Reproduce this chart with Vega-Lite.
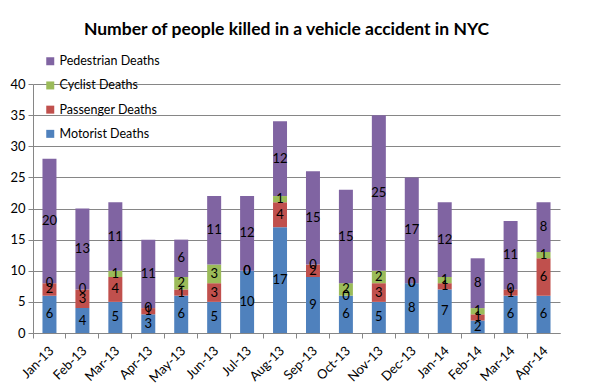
{
  "$schema": "https://vega.github.io/schema/vega-lite/v6.json",
  "autosize": {"type": "none"},
  "width": 527,
  "height": 249,
  "padding": {"left": 33, "top": 84, "right": 29, "bottom": 59},
  "background": "white",
  "title": {
    "text": "Number of people killed in a vehicle accident in NYC",
    "font": "Lato",
    "fontSize": 17.5,
    "fontWeight": "bold",
    "color": "#000000",
    "anchor": "middle",
    "offset": 17,
    "dx": -10
  },
  "data": {
    "values": [
      {"month": "Jan-13", "type": "Motorist Deaths", "value": 6},
      {"month": "Jan-13", "type": "Passenger Deaths", "value": 2},
      {"month": "Jan-13", "type": "Cyclist Deaths", "value": 0},
      {"month": "Jan-13", "type": "Pedestrian Deaths", "value": 20},
      {"month": "Feb-13", "type": "Motorist Deaths", "value": 4},
      {"month": "Feb-13", "type": "Passenger Deaths", "value": 3},
      {"month": "Feb-13", "type": "Cyclist Deaths", "value": 0},
      {"month": "Feb-13", "type": "Pedestrian Deaths", "value": 13},
      {"month": "Mar-13", "type": "Motorist Deaths", "value": 5},
      {"month": "Mar-13", "type": "Passenger Deaths", "value": 4},
      {"month": "Mar-13", "type": "Cyclist Deaths", "value": 1},
      {"month": "Mar-13", "type": "Pedestrian Deaths", "value": 11},
      {"month": "Apr-13", "type": "Motorist Deaths", "value": 3},
      {"month": "Apr-13", "type": "Passenger Deaths", "value": 1},
      {"month": "Apr-13", "type": "Cyclist Deaths", "value": 0},
      {"month": "Apr-13", "type": "Pedestrian Deaths", "value": 11},
      {"month": "May-13", "type": "Motorist Deaths", "value": 6},
      {"month": "May-13", "type": "Passenger Deaths", "value": 1},
      {"month": "May-13", "type": "Cyclist Deaths", "value": 2},
      {"month": "May-13", "type": "Pedestrian Deaths", "value": 6},
      {"month": "Jun-13", "type": "Motorist Deaths", "value": 5},
      {"month": "Jun-13", "type": "Passenger Deaths", "value": 3},
      {"month": "Jun-13", "type": "Cyclist Deaths", "value": 3},
      {"month": "Jun-13", "type": "Pedestrian Deaths", "value": 11},
      {"month": "Jul-13", "type": "Motorist Deaths", "value": 10},
      {"month": "Jul-13", "type": "Passenger Deaths", "value": 0},
      {"month": "Jul-13", "type": "Cyclist Deaths", "value": 0},
      {"month": "Jul-13", "type": "Pedestrian Deaths", "value": 12},
      {"month": "Aug-13", "type": "Motorist Deaths", "value": 17},
      {"month": "Aug-13", "type": "Passenger Deaths", "value": 4},
      {"month": "Aug-13", "type": "Cyclist Deaths", "value": 1},
      {"month": "Aug-13", "type": "Pedestrian Deaths", "value": 12},
      {"month": "Sep-13", "type": "Motorist Deaths", "value": 9},
      {"month": "Sep-13", "type": "Passenger Deaths", "value": 2},
      {"month": "Sep-13", "type": "Cyclist Deaths", "value": 0},
      {"month": "Sep-13", "type": "Pedestrian Deaths", "value": 15},
      {"month": "Oct-13", "type": "Motorist Deaths", "value": 6},
      {"month": "Oct-13", "type": "Passenger Deaths", "value": 0},
      {"month": "Oct-13", "type": "Cyclist Deaths", "value": 2},
      {"month": "Oct-13", "type": "Pedestrian Deaths", "value": 15},
      {"month": "Nov-13", "type": "Motorist Deaths", "value": 5},
      {"month": "Nov-13", "type": "Passenger Deaths", "value": 3},
      {"month": "Nov-13", "type": "Cyclist Deaths", "value": 2},
      {"month": "Nov-13", "type": "Pedestrian Deaths", "value": 25},
      {"month": "Dec-13", "type": "Motorist Deaths", "value": 8},
      {"month": "Dec-13", "type": "Passenger Deaths", "value": 0},
      {"month": "Dec-13", "type": "Cyclist Deaths", "value": 0},
      {"month": "Dec-13", "type": "Pedestrian Deaths", "value": 17},
      {"month": "Jan-14", "type": "Motorist Deaths", "value": 7},
      {"month": "Jan-14", "type": "Passenger Deaths", "value": 1},
      {"month": "Jan-14", "type": "Cyclist Deaths", "value": 1},
      {"month": "Jan-14", "type": "Pedestrian Deaths", "value": 12},
      {"month": "Feb-14", "type": "Motorist Deaths", "value": 2},
      {"month": "Feb-14", "type": "Passenger Deaths", "value": 1},
      {"month": "Feb-14", "type": "Cyclist Deaths", "value": 1},
      {"month": "Feb-14", "type": "Pedestrian Deaths", "value": 8},
      {"month": "Mar-14", "type": "Motorist Deaths", "value": 6},
      {"month": "Mar-14", "type": "Passenger Deaths", "value": 1},
      {"month": "Mar-14", "type": "Cyclist Deaths", "value": 0},
      {"month": "Mar-14", "type": "Pedestrian Deaths", "value": 11},
      {"month": "Apr-14", "type": "Motorist Deaths", "value": 6},
      {"month": "Apr-14", "type": "Passenger Deaths", "value": 6},
      {"month": "Apr-14", "type": "Cyclist Deaths", "value": 1},
      {"month": "Apr-14", "type": "Pedestrian Deaths", "value": 8}
    ]
  },
  "transform": [
    {"calculate": "indexof(['Motorist Deaths','Passenger Deaths','Cyclist Deaths','Pedestrian Deaths'], datum.type)", "as": "ord"},
    {"stack": "value", "groupby": ["month"], "sort": [{"field": "ord", "order": "ascending"}], "as": ["y0", "y1"]},
    {"calculate": "(datum.y0 + datum.y1) / 2", "as": "mid"}
  ],
  "encoding": {
    "x": {
      "field": "month",
      "type": "ordinal",
      "sort": null,
      "scale": {"paddingInner": 0, "paddingOuter": 0},
      "axis": {
        "title": null,
        "bandPosition": 0,
        "labelOffset": -2,
        "labelAngle": -45,
        "labelFont": "Lato",
        "labelFontSize": 13,
        "labelColor": "#000000",
        "domainColor": "#868686",
        "tickColor": "#868686",
        "tickSize": 5,
        "labelPadding": 6,
        "grid": false
      }
    }
  },
  "layer": [
    {
      "mark": {"type": "bar", "width": {"band": 0.425}},
      "encoding": {
        "y": {
          "field": "y0",
          "type": "quantitative",
          "scale": {"domain": [0, 40]},
          "axis": {
            "title": null,
            "values": [0, 5, 10, 15, 20, 25, 30, 35, 40],
            "labelOverlap": false,
            "labelFont": "Lato",
            "labelFontSize": 13,
            "labelColor": "#000000",
            "domainColor": "#868686",
            "tickColor": "#868686",
            "tickSize": 5,
            "labelPadding": 3,
            "gridColor": "#868686",
            "gridOpacity": 1
          }
        },
        "y2": {"field": "y1"},
        "color": {
          "field": "type",
          "type": "nominal",
          "scale": {
            "domain": ["Pedestrian Deaths", "Cyclist Deaths", "Passenger Deaths", "Motorist Deaths"],
            "range": ["#8064A2", "#9BBB59", "#C0504D", "#4F81BD"]
          },
          "legend": {
            "title": null,
            "orient": "none",
            "legendX": 11,
            "legendY": -29,
            "padding": 0,
            "symbolType": "square",
            "symbolSize": 64,
            "symbolStrokeWidth": 0,
            "labelFont": "Lato",
            "labelFontSize": 12.5,
            "labelColor": "#000000",
            "rowPadding": 11.2,
            "labelOffset": 3
          }
        }
      }
    },
    {
      "mark": {"type": "text", "font": "Lato", "fontSize": 13, "color": "#000000", "baseline": "middle"},
      "encoding": {
        "y": {
          "field": "mid",
          "type": "quantitative",
          "scale": {"domain": [0, 40]},
          "axis": {
            "title": null,
            "values": [0, 5, 10, 15, 20, 25, 30, 35, 40],
            "labelOverlap": false,
            "labelFont": "Lato",
            "labelFontSize": 13,
            "labelColor": "#000000",
            "domainColor": "#868686",
            "tickColor": "#868686",
            "tickSize": 5,
            "labelPadding": 3,
            "gridColor": "#868686",
            "gridOpacity": 1
          }
        },
        "text": {"field": "value", "type": "quantitative"}
      }
    }
  ],
  "config": {"view": {"stroke": null}}
}
